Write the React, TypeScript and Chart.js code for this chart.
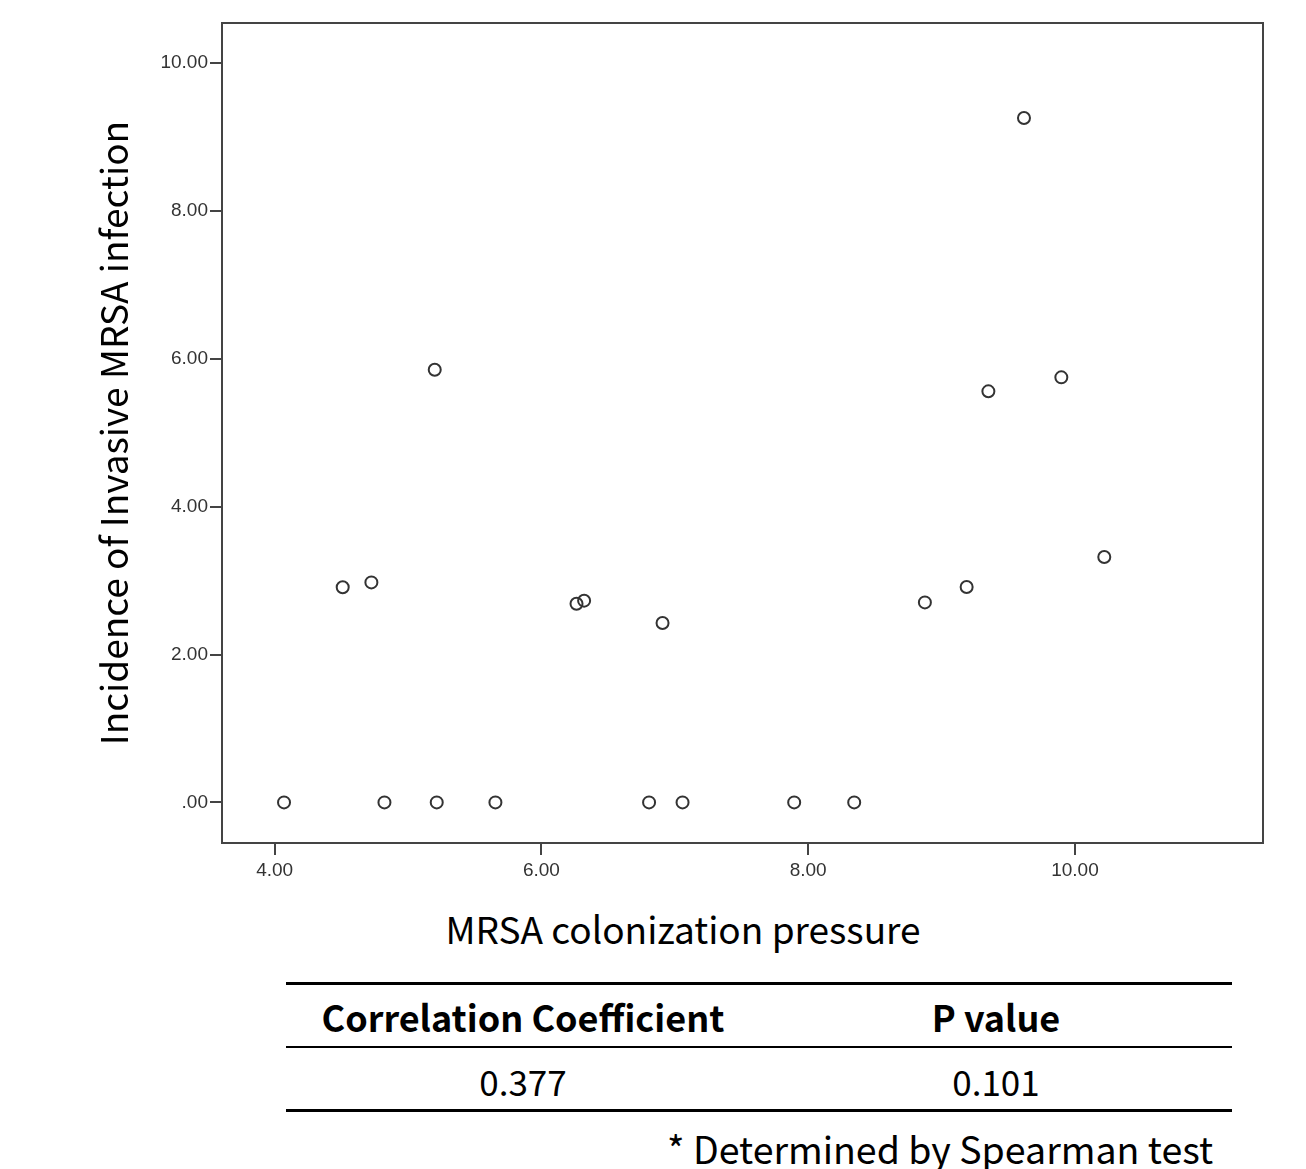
import React, { useEffect, useRef } from 'react';
import { Chart, registerables } from 'chart.js';

Chart.register(...registerables);

// ---- data ----
const colonizationPressure = [4.07, 4.51, 4.725, 4.823, 5.2, 5.215, 5.655, 6.263, 6.32, 6.807, 6.908, 7.058, 7.895, 8.345, 8.875, 9.188, 9.351, 9.618, 9.898, 10.22];
const invasiveIncidence = [0, 2.91, 2.975, 0, 5.85, 0, 0, 2.687, 2.728, 0, 2.426, 0, 0, 0, 2.705, 2.913, 5.559, 9.256, 5.748, 3.319];

const xTicks = [4, 6, 8, 10];
const yTicks = [0, 2, 4, 6, 8, 10];
const xRange = [3.605, 11.41];
const yRange = [-0.549, 10.54];

const xTitle = 'MRSA colonization pressure';
const yTitle = 'Incidence of Invasive MRSA infection';

const tableHeaders = ['Correlation Coefficient', 'P value'];
const tableValues = ['0.377', '0.101'];
const footnote = '* Determined by Spearman test';

const fmt = (v: number) => (v === 0 ? '.00' : v.toFixed(2));

const TITLE_FONT = '"Noto Sans CJK KR", "Noto Sans", sans-serif';

const boxPlugin = {
  id: 'plotBox',
  afterDraw(chart: any) {
    const { ctx, chartArea: a } = chart;
    ctx.save();
    ctx.strokeStyle = '#444';
    ctx.lineWidth = 2;
    ctx.strokeRect(a.left, a.top, a.right - a.left, a.bottom - a.top);
    ctx.restore();
  },
};

export default function App() {
  const ref = useRef<HTMLCanvasElement | null>(null);

  useEffect(() => {
    document.body.style.margin = '0';
    const canvas = ref.current;
    if (!canvas) return;
    const tickFont = { family: '"Liberation Sans", Arial, sans-serif', size: 19 };
    const chart = new Chart(canvas, {
      type: 'scatter',
      data: {
        datasets: [
          {
            data: colonizationPressure.map((x, i) => ({ x, y: invasiveIncidence[i] })),
            pointStyle: 'circle',
            pointRadius: 6,
            pointBorderWidth: 2,
            pointBorderColor: '#333',
            pointBackgroundColor: 'rgba(0,0,0,0)',
            showLine: false,
          },
        ],
      },
      options: {
        animation: false,
        responsive: false,
        maintainAspectRatio: false,
        layout: { padding: { left: 0, top: 23, right: 43, bottom: 0 } },
        plugins: { legend: { display: false }, tooltip: { enabled: false } },
        scales: {
          x: {
            type: 'linear',
            min: xRange[0],
            max: xRange[1],
            afterBuildTicks: (s: any) => {
              s.ticks = xTicks.map((v) => ({ value: v }));
            },
            afterFit: (s: any) => {
              s.height = 57;
            },
            ticks: {
              callback: (v: any) => fmt(Number(v)),
              font: tickFont,
              color: '#333',
              padding: 4,
              maxRotation: 0,
              autoSkip: false,
            },
            grid: { drawOnChartArea: false, drawTicks: true, tickLength: 12, color: '#444', lineWidth: 2 },
            border: { display: true, color: '#444', width: 2 },
          },
          y: {
            type: 'linear',
            min: yRange[0],
            max: yRange[1],
            afterBuildTicks: (s: any) => {
              s.ticks = yTicks.map((v) => ({ value: v }));
            },
            afterFit: (s: any) => {
              s.width = 222;
            },
            ticks: {
              callback: (v: any) => fmt(Number(v)),
              font: tickFont,
              color: '#333',
              padding: 2,
              autoSkip: false,
            },
            grid: { drawOnChartArea: false, drawTicks: true, tickLength: 12, color: '#444', lineWidth: 2 },
            border: { display: true, color: '#444', width: 2 },
            title: {
              display: true,
              text: yTitle,
              color: '#000',
              font: { family: TITLE_FONT, size: 37 },
              padding: { top: 92, bottom: 0 },
            },
          },
        },
      },
      plugins: [boxPlugin],
    } as any);
    return () => chart.destroy();
  }, []);

  const textBase: React.CSSProperties = {
    position: 'absolute',
    fontFamily: TITLE_FONT,
    color: '#000',
    whiteSpace: 'nowrap',
    lineHeight: 1,
    transform: 'translate(-50%, -50%)',
  };
  const line = (top: number, h: number): React.CSSProperties => ({
    position: 'absolute',
    left: 286,
    width: 946,
    top: top - h / 2,
    height: h,
    background: '#000',
  });
  const colX = [523, 996];

  return (
    <div style={{ position: 'relative', width: 1306, height: 1169, background: '#fff', overflow: 'hidden' }}>
      <canvas ref={ref} width={1306} height={900} style={{ position: 'absolute', left: 0, top: 0, width: 1306, height: 900 }} />
      <div style={{ ...textBase, left: 683, top: 928, fontSize: 37 }}>{xTitle}</div>
      <div style={line(983, 3)} />
      {tableHeaders.map((h, i) => (
        <div key={'h' + i} style={{ ...textBase, left: colX[i], top: 1016, fontSize: 36, fontWeight: 700 }}>{h}</div>
      ))}
      <div style={line(1047, 2.5)} />
      {tableValues.map((v, i) => (
        <div key={'v' + i} style={{ ...textBase, left: colX[i], top: 1080, fontSize: 35 }}>{v}</div>
      ))}
      <div style={line(1110, 3)} />
      <div style={{ ...textBase, left: 940, top: 1148, fontSize: 37.5 }}>{footnote}</div>
    </div>
  );
}
